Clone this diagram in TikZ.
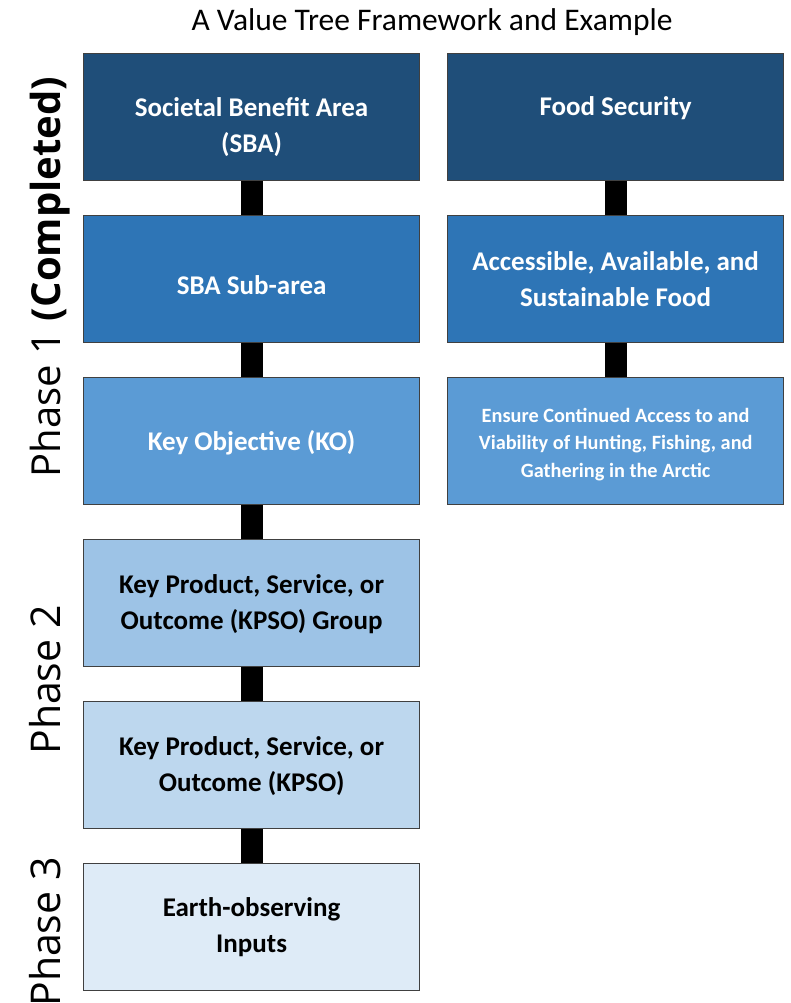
\documentclass[tikz,border=0pt]{standalone}
\usepackage{fontspec}
\setmainfont{Carlito}
\newfontfamily\phasefont{Open Sans}
\definecolor{tierA}{HTML}{1F4E79}
\definecolor{tierB}{HTML}{2E75B6}
\definecolor{tierC}{HTML}{5B9BD5}
\definecolor{tierD}{HTML}{9DC3E6}
\definecolor{tierE}{HTML}{BDD7EE}
\definecolor{tierF}{HTML}{DEEBF7}
\begin{document}
\begin{tikzpicture}[x=1pt,y=-1pt]
\useasboundingbox (0,0) rectangle (790,1003);
\tikzset{
  tier/.style={draw=black!75, line width=1.2pt, anchor=north west,
    minimum width=336pt, minimum height=127pt, inner sep=0pt},
  lbl/.style={align=center, inner sep=0pt, font=\fontsize{27}{36}\selectfont\bfseries},
  small/.style={font=\fontsize{20.3}{27.5}\selectfont\bfseries},
  light/.style={text=white},
  link/.style={line width=22pt, black},
  phase/.style={rotate=90, anchor=base, inner sep=0pt},
}
% title
\node[anchor=base, font=\fontsize{31.5}{36}\selectfont] (title) at (432,31) {A Value Tree Framework and Example};

% generic framework column
\node[tier, fill=tierA] (sba)  at (83,53)  {};
\node[tier, fill=tierB] (sub)  at (83,215) {};
\node[tier, fill=tierC] (ko)   at (83,377) {};
\node[tier, fill=tierD] (grp)  at (83,539) {};
\node[tier, fill=tierE] (kpso) at (83,701) {};
\node[tier, fill=tierF] (eo)   at (83,863) {};

% example column
\node[tier, fill=tierA] (food)   at (447,53)  {};
\node[tier, fill=tierB] (access) at (447,215) {};
\node[tier, fill=tierC] (ensure) at (447,377) {};

% box texts
\node[lbl, light] (sbaT)  at ([yshift=-10pt]sba.center)  {Societal Benefit Area\\(SBA)};
\node[lbl, light] (subT)  at ([yshift=-6pt]sub.center)   {SBA Sub-area};
\node[lbl, light] (koT)   at ([yshift=-2pt]ko.center)    {Key Objective (KO)};
\node[lbl]        (grpT)  at ([yshift=-1pt]grp.center)   {Key Product, Service, or\\Outcome (KPSO) Group};
\node[lbl]        (kpsoT) at ([yshift=-1pt]kpso.center)  {Key Product, Service, or\\Outcome (KPSO)};
\node[lbl]        (eoT)   at (eo.center)                 {Earth-observing\\Inputs};
\node[lbl, light] (foodT) at ([yshift=9pt]food.center)   {Food Security};
\node[lbl, light] (accT)  at (access.center)             {Accessible, Available, and\\Sustainable Food};
\node[lbl, small, light] (ensT) at ([yshift=-3pt]ensure.center)
  {Ensure Continued Access to and\\Viability of Hunting, Fishing, and\\Gathering in the Arctic};

% connectors
\draw[link] (sba.south) -- (sub.north);
\draw[link] (sub.south) -- (ko.north);
\draw[link] (ko.south) -- (grp.north);
\draw[link] (grp.south) -- (kpso.north);
\draw[link] (kpso.south) -- (eo.north);
\draw[link] (food.south) -- (access.north);
\draw[link] (access.south) -- (ensure.north);

% phase labels
\node[phase, font=\phasefont\fontsize{40}{44}\selectfont] (p1) at (60,277) {Phase 1 \textbf{(Completed)}};
\node[phase, font=\phasefont\fontsize{41}{44}\selectfont] (p2) at (60,680) {Phase 2};
\node[phase, font=\phasefont\fontsize{41}{44}\selectfont] (p3) at (60,932) {Phase 3};
\end{tikzpicture}
\end{document}
